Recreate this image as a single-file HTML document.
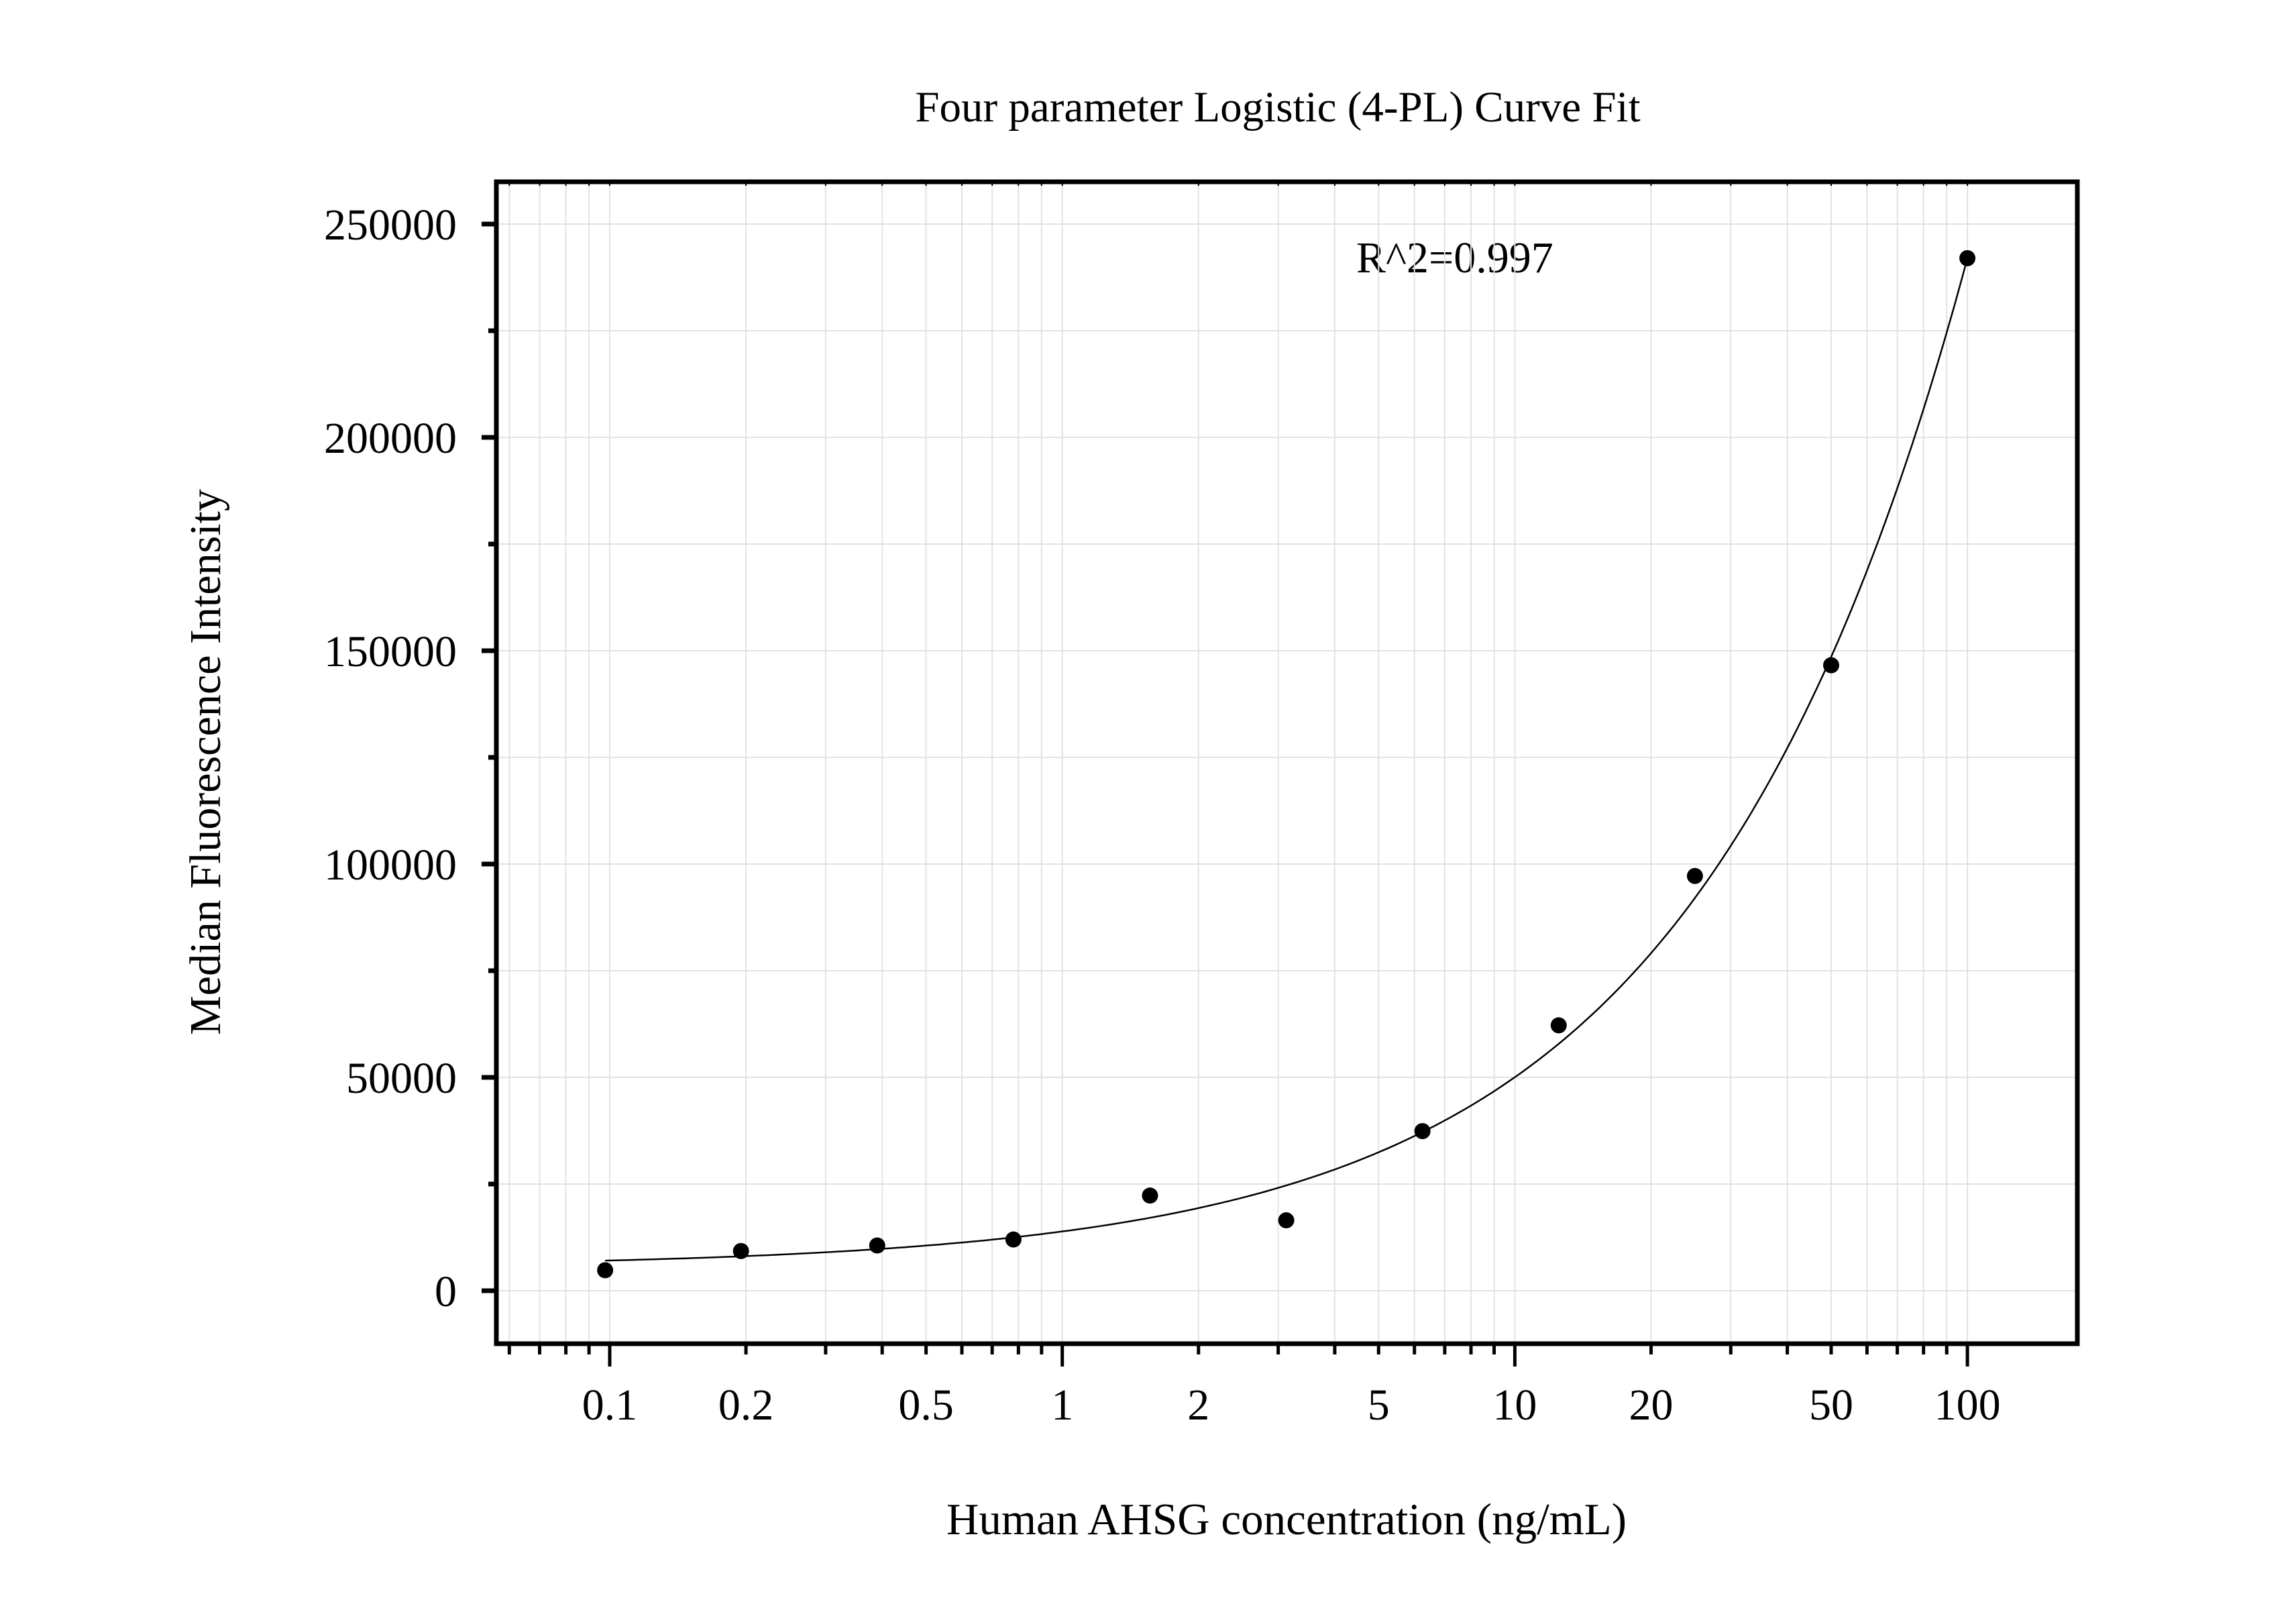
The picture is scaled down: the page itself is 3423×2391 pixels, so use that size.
<!DOCTYPE html>
<html><head><meta charset="utf-8"><style>
html,body{margin:0;padding:0;background:#fff;}
svg{display:block;font-family:"Liberation Serif",serif;}
</style></head><body>
<svg id="chart" width="3423" height="2391" viewBox="0 0 3423 2391" xmlns="http://www.w3.org/2000/svg">
<text x="1905" y="181" font-size="65" text-anchor="middle">Four parameter Logistic (4-PL) Curve Fit</text>
<text x="1918" y="2287" font-size="67" text-anchor="middle">Human AHSG concentration (ng/mL)</text>
<text x="0" y="0" font-size="66" text-anchor="middle" transform="translate(328,1136) rotate(-90)">Median Fluorescence Intensity</text>
<text x="2022" y="406" font-size="66">R^2=0.997</text>
<g id="grid"></g>
<g id="axes"></g>
<path id="fit" fill="none" stroke="#000" stroke-width="2.5"/>
<g id="pts"></g>
</svg>
<script>
const concentrations = [0.0977, 0.195, 0.39, 0.78, 1.5625, 3.125, 6.25, 12.5, 25, 50, 100];
const intensities = [4800, 9300, 10600, 12000, 22300, 16500, 37400, 62200, 97200, 146600, 242000];
const yTicks = [0, 50000, 100000, 150000, 200000, 250000];
const yTickLabels = ["0", "50000", "100000", "150000", "200000", "250000"];
const xTicks = [0.1, 0.2, 0.5, 1, 2, 5, 10, 20, 50, 100];
const xTickLabels = ["0.1", "0.2", "0.5", "1", "2", "5", "10", "20", "50", "100"];
const fitBottom = 5500, fitScale = 8390, fitSlope = 0.725;

const L = 740, R = 3097, T = 271, B = 2003;
const X0 = 909, XD = 674.7;
const Y0 = 1924, YK = (1924 - 334) / 250000;
const xs = v => X0 + (Math.log10(v) + 1) * XD;
const ys = v => Y0 - v * YK;
const NS = "http://www.w3.org/2000/svg";
function mk(tag, attrs, parent) {
  const e = document.createElementNS(NS, tag);
  for (const k in attrs) e.setAttribute(k, attrs[k]);
  parent.appendChild(e); return e;
}
const grid = document.getElementById('grid');
const axes = document.getElementById('axes');
const xmin = Math.pow(10, (L - X0) / XD - 1);
for (let d = -2; d <= 2; d++) {
  for (let m = 1; m <= 9; m++) {
    const v = m * Math.pow(10, d);
    if (v < xmin || v > 100.0001) continue;
    const x = xs(v);
    const g = mk('line', {x1: x, x2: x, y1: T, y2: B, stroke: '#e2e2e2', 'stroke-width': 2}, grid);
    
    
    const t = mk('line', {x1: x, x2: x, y1: B, y2: B + (m === 1 ? 34 : 16), stroke: '#000', 'stroke-width': 5}, axes);
    
    
    const tt = mk('line', {x1: x, x2: x, y1: T, y2: T + 6, stroke: '#000', 'stroke-width': 2}, axes);
    
    
  }
}
for (let v = 0; v <= 275000; v += 25000) {
  const y = ys(v);
  if (y < T) continue;
  const g = mk('line', {x1: L, x2: R, y1: y, y2: y, stroke: '#e2e2e2', 'stroke-width': 2}, grid);
  
  
  const major = v % 50000 === 0;
  const t = mk('line', {x1: L - (major ? 22 : 12), x2: L, y1: y, y2: y, stroke: '#000', 'stroke-width': 7}, axes);
  
  
}
yTicks.forEach((v, i) => {
  const t = mk('text', {x: 681, y: ys(v) + 23, 'font-size': 66, 'text-anchor': 'end'}, axes);
  t.textContent = yTickLabels[i];
  
  
});
xTicks.forEach((v, i) => {
  const t = mk('text', {x: xs(v), y: 2116, 'font-size': 66, 'text-anchor': 'middle'}, axes);
  t.textContent = xTickLabels[i];
  
  
});
const frame = mk('rect', {x: L, y: T, width: R - L, height: B - T, fill: 'none', stroke: '#000', 'stroke-width': 7}, axes);


let d = '';
const lo = Math.log10(concentrations[0]), hi = Math.log10(concentrations[concentrations.length - 1]);
for (let i = 0; i <= 200; i++) {
  const lx = lo + (hi - lo) * i / 200, x = Math.pow(10, lx);
  const y = fitBottom + fitScale * Math.pow(x, fitSlope);
  d += (i ? 'L' : 'M') + xs(x).toFixed(1) + ',' + ys(y).toFixed(1);
}
document.getElementById('fit').setAttribute('d', d);
const pts = document.getElementById('pts');
concentrations.forEach((c, i) => {
  const p = mk('circle', {cx: xs(c), cy: ys(intensities[i]), r: 12, fill: '#000'}, pts);
  
  
});
</script>
</body></html>
